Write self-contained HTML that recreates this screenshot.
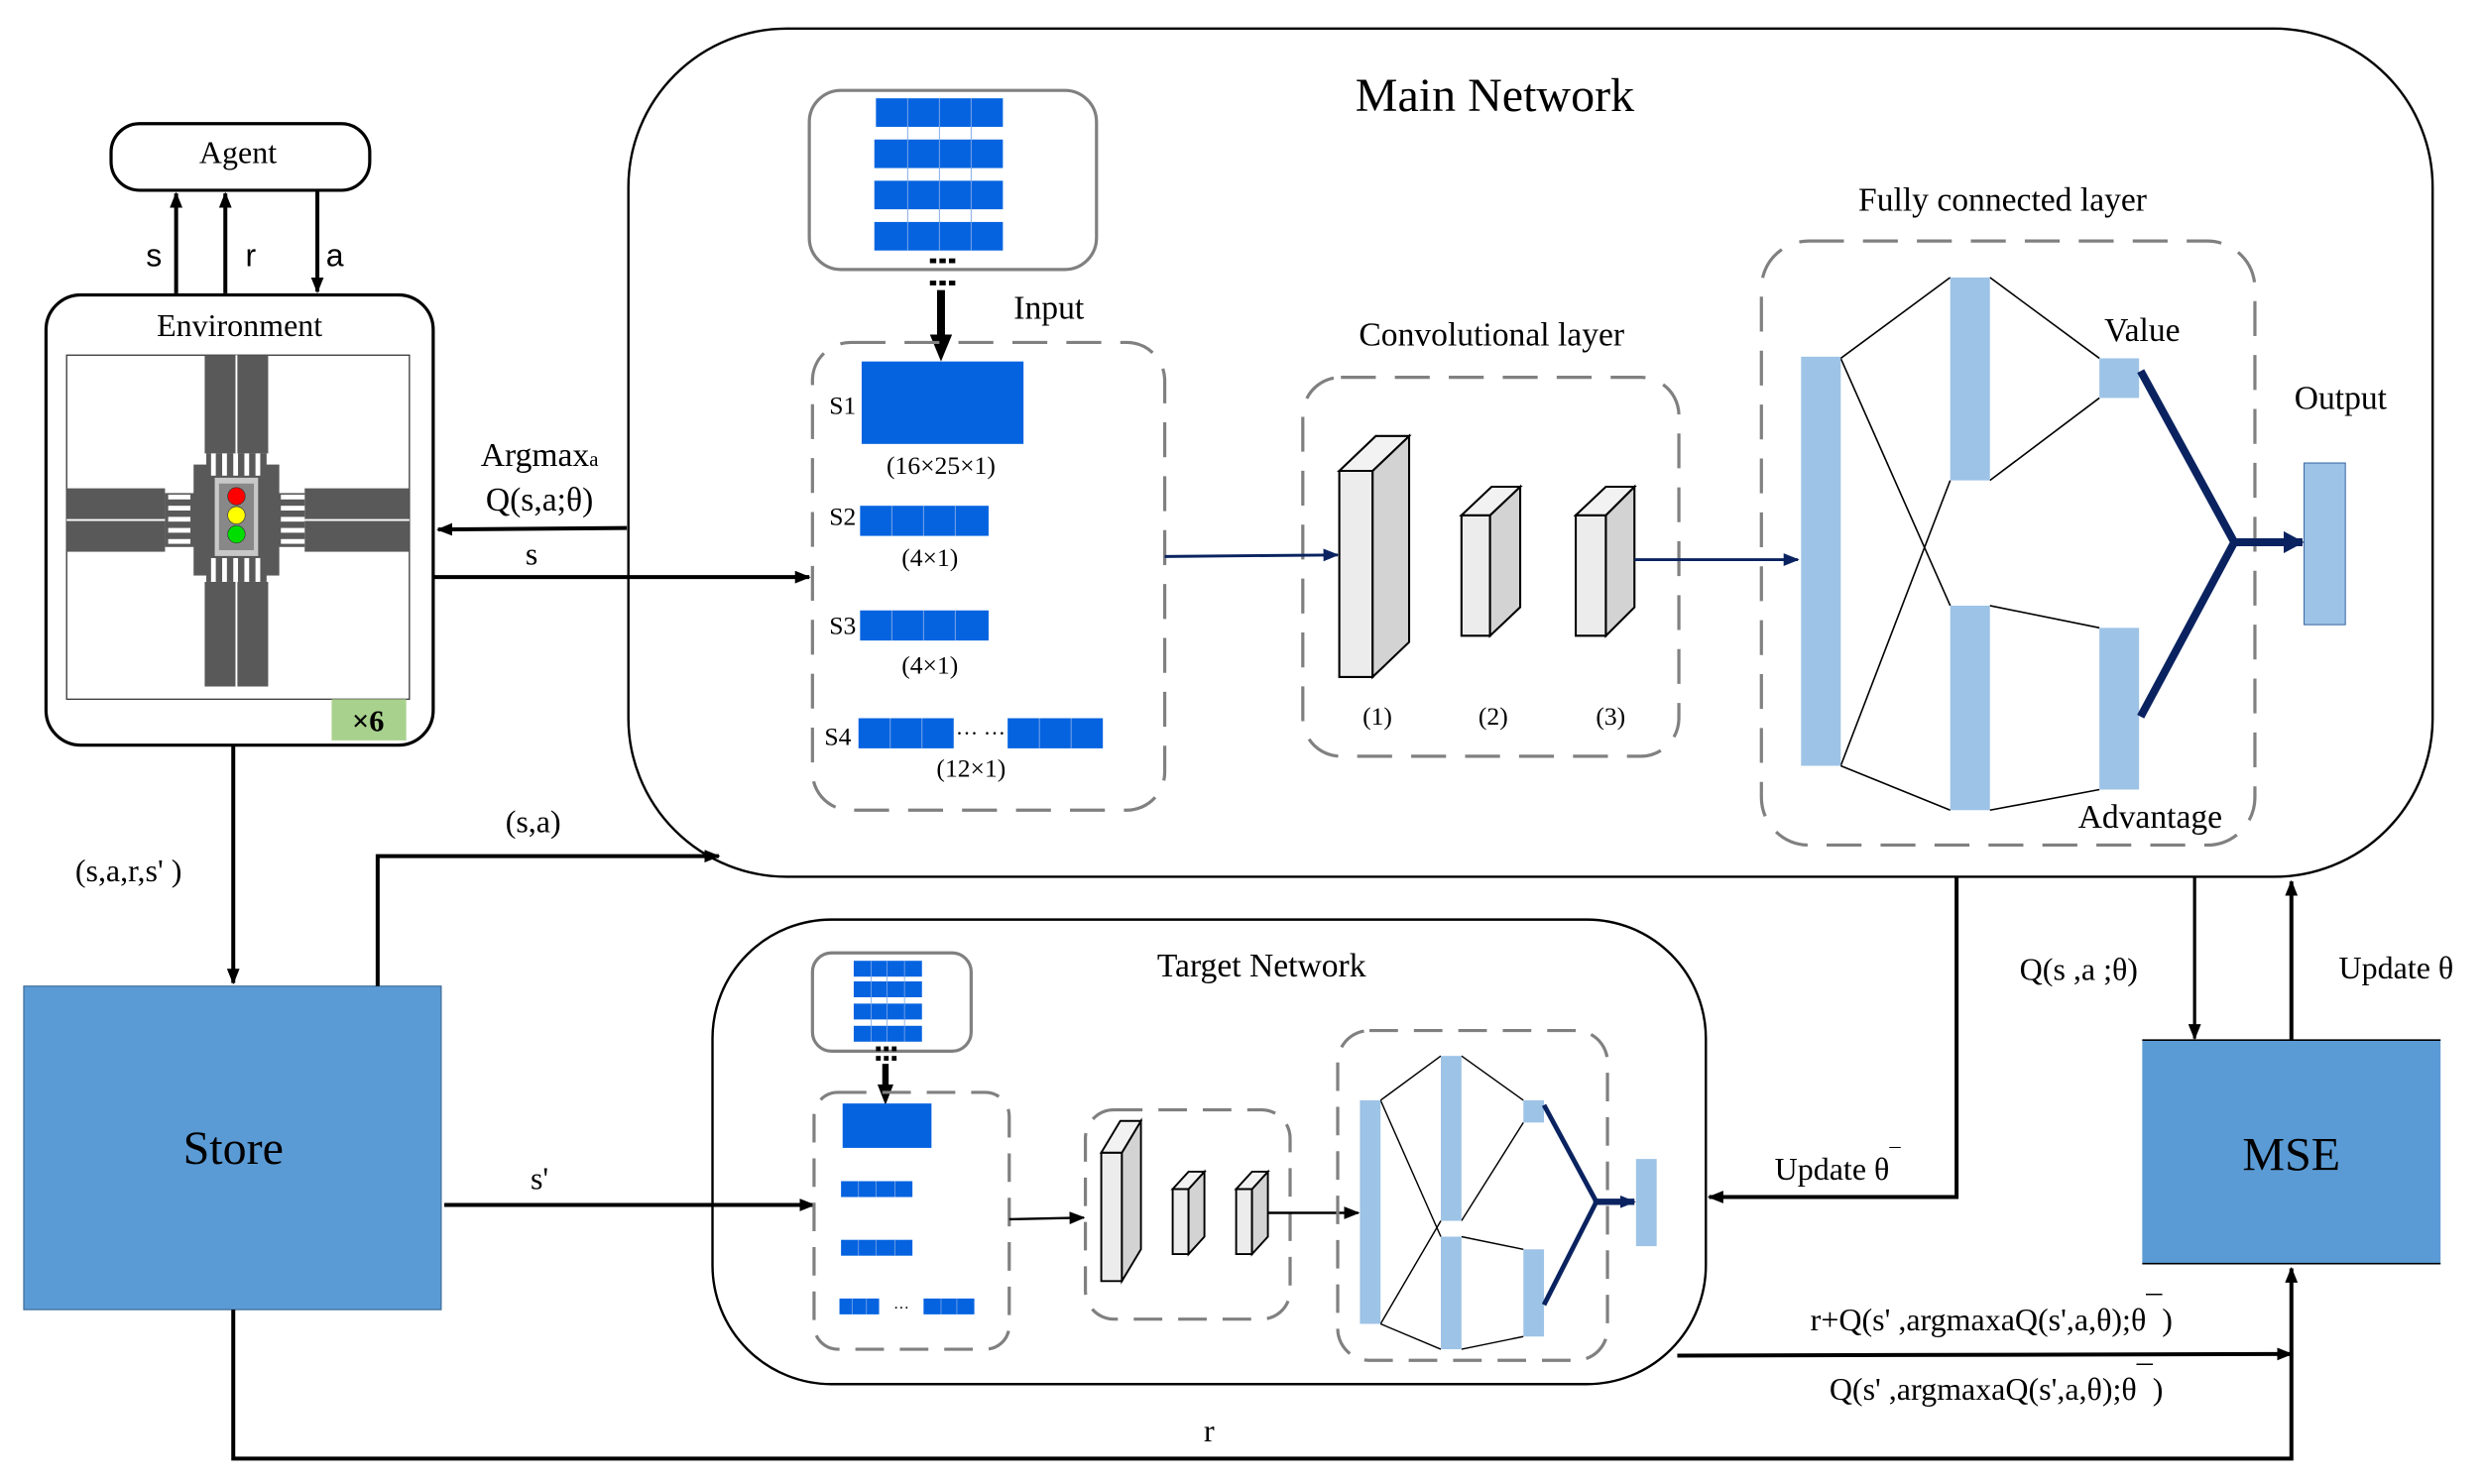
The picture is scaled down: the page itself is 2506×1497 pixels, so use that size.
<!DOCTYPE html>
<html><head><meta charset="utf-8"><style>
html,body{margin:0;padding:0;background:#fff}
svg{display:block}
text{font-family:"Liberation Serif",serif;fill:#000}
.sans{font-family:"Liberation Sans",sans-serif}
</style></head><body>
<svg width="2506" height="1497" viewBox="0 0 1566 936" preserveAspectRatio="none" xmlns="http://www.w3.org/2000/svg">
<defs>
<marker id="ah" markerWidth="10" markerHeight="8" refX="9" refY="4" orient="auto" markerUnits="userSpaceOnUse"><path d="M0,0 L10,4 L0,8 Z" fill="#000"/></marker>
<marker id="an" markerWidth="10" markerHeight="8" refX="9" refY="4" orient="auto" markerUnits="userSpaceOnUse"><path d="M0,0 L10,4 L0,8 Z" fill="#0a2360"/></marker>
<marker id="an2" markerWidth="14" markerHeight="14" refX="12" refY="7" orient="auto" markerUnits="userSpaceOnUse"><path d="M0,0 L13,7 L0,14 Z" fill="#0a2360"/></marker>
</defs>

<!-- Agent -->
<rect x="70" y="78" width="163" height="42" rx="18" fill="#fff" stroke="#000" stroke-width="2"/>
<text x="150" y="103" font-size="20" text-anchor="middle">Agent</text>
<line x1="111" y1="185" x2="111" y2="122" stroke="#000" stroke-width="2.5" marker-end="url(#ah)"/>
<line x1="142" y1="185" x2="142" y2="122" stroke="#000" stroke-width="2.5" marker-end="url(#ah)"/>
<line x1="200" y1="120" x2="200" y2="184" stroke="#000" stroke-width="2.5" marker-end="url(#ah)"/>
<text x="97" y="168" font-size="20" text-anchor="middle" class="sans">s</text>
<text x="158" y="168" font-size="20" text-anchor="middle" class="sans">r</text>
<text x="211" y="168" font-size="20" text-anchor="middle" class="sans">a</text>

<!-- Environment -->
<rect x="29" y="186" width="244" height="284" rx="22" fill="#fff" stroke="#000" stroke-width="2"/>
<text x="151" y="212" font-size="20" text-anchor="middle">Environment</text>
<rect x="42" y="224" width="216" height="217" fill="#fff" stroke="#333" stroke-width="0.8"/>
<g fill="#595959">
<rect x="129" y="224" width="40" height="62"/>
<rect x="129" y="367" width="40" height="66"/>
<rect x="42" y="308" width="62" height="40"/>
<rect x="192" y="308" width="66" height="40"/>
<rect x="122" y="293" width="54" height="70"/>
<rect x="130" y="286" width="38" height="81"/>
<rect x="104" y="311" width="88" height="34"/>
</g>
<g stroke="#fff" stroke-width="1.2">
<line x1="149" y1="224" x2="149" y2="286"/><line x1="149" y1="367" x2="149" y2="433"/>
<line x1="42" y1="328" x2="104" y2="328"/><line x1="192" y1="328" x2="258" y2="328"/>
</g>
<g fill="#fff">
<rect x="133" y="286" width="3" height="14"/><rect x="140" y="286" width="3" height="14"/><rect x="147" y="286" width="3" height="14"/><rect x="154" y="286" width="3" height="14"/><rect x="161" y="286" width="3" height="14"/>
<rect x="133" y="352" width="3" height="15"/><rect x="140" y="352" width="3" height="15"/><rect x="147" y="352" width="3" height="15"/><rect x="154" y="352" width="3" height="15"/><rect x="161" y="352" width="3" height="15"/>
<rect x="106" y="312" width="14" height="3"/><rect x="106" y="319" width="14" height="3"/><rect x="106" y="326" width="14" height="3"/><rect x="106" y="333" width="14" height="3"/><rect x="106" y="340" width="14" height="3"/>
<rect x="177" y="312" width="15" height="3"/><rect x="177" y="319" width="15" height="3"/><rect x="177" y="326" width="15" height="3"/><rect x="177" y="333" width="15" height="3"/><rect x="177" y="340" width="15" height="3"/>
</g>
<rect x="135" y="301" width="28" height="50" fill="#c8c8c8" stroke="#555" stroke-width="0.6"/>
<rect x="138" y="305" width="22" height="42" fill="#888"/>
<circle cx="149" cy="313" r="5.5" fill="#f00" stroke="#333" stroke-width="0.4"/>
<circle cx="149" cy="325" r="5.5" fill="#ff0" stroke="#333" stroke-width="0.4"/>
<circle cx="149" cy="337" r="5.5" fill="#0d0" stroke="#333" stroke-width="0.4"/>
<rect x="209" y="441" width="47" height="26" fill="#a9d18e"/>
<text x="232" y="461" font-size="19" font-weight="bold" text-anchor="middle">×6</text>

<!-- Main network -->
<rect x="396" y="18" width="1137" height="535" rx="100" fill="none" stroke="#000" stroke-width="1.5"/>
<text x="942" y="70" font-size="30" text-anchor="middle">Main Network</text>

<!-- Input stack -->
<rect x="510" y="57" width="181" height="113" rx="20" fill="#fff" stroke="#808080" stroke-width="2"/>
<g fill="#0563e0">
<rect x="552" y="62" width="80" height="18"/><rect x="551" y="88" width="81" height="18"/><rect x="551" y="114" width="81" height="18"/><rect x="551" y="140" width="81" height="18"/>
</g>
<g stroke="#7fa8e6" stroke-width="0.6">
<line x1="572" y1="62" x2="572" y2="158"/><line x1="592" y1="62" x2="592" y2="158"/><line x1="612" y1="62" x2="612" y2="158"/>
</g>
<g fill="#000"><rect x="586" y="163" width="4" height="3"/><rect x="592" y="163" width="4" height="3"/><rect x="598" y="163" width="4" height="3"/>
<rect x="586" y="177" width="4" height="3"/><rect x="592" y="177" width="4" height="3"/><rect x="598" y="177" width="4" height="3"/></g>
<line x1="593" y1="183" x2="593" y2="213" stroke="#000" stroke-width="5"/>
<path d="M586,211 L600,211 L593,228 Z" fill="#000"/>
<text x="661" y="201" font-size="21" text-anchor="middle">Input</text>
<rect x="512" y="216" width="222" height="295" rx="24" fill="none" stroke="#808080" stroke-width="2" stroke-dasharray="22,12"/>
<text x="531" y="261" font-size="16" text-anchor="middle">S1</text>
<rect x="543" y="228" width="102" height="52" fill="#0563e0"/>
<text x="593" y="299" font-size="16" text-anchor="middle">(16×25×1)</text>
<text x="531" y="331" font-size="16" text-anchor="middle">S2</text>
<rect x="542" y="319" width="81" height="19" fill="#0563e0"/>
<text x="586" y="357" font-size="16" text-anchor="middle">(4×1)</text>
<text x="531" y="400" font-size="16" text-anchor="middle">S3</text>
<rect x="542" y="385" width="81" height="19" fill="#0563e0"/>
<text x="586" y="425" font-size="16" text-anchor="middle">(4×1)</text>
<text x="528" y="470" font-size="16" text-anchor="middle">S4</text>
<rect x="541" y="453" width="60" height="19" fill="#0563e0"/>
<rect x="635" y="453" width="60" height="19" fill="#0563e0"/>
<text x="618" y="467" font-size="14" text-anchor="middle">··· ···</text>
<text x="612" y="490" font-size="16" text-anchor="middle">(12×1)</text>
<g stroke="#7fa8e6" stroke-width="0.6">
<line x1="562" y1="319" x2="562" y2="338"/><line x1="582" y1="319" x2="582" y2="338"/><line x1="602" y1="319" x2="602" y2="338"/>
<line x1="562" y1="385" x2="562" y2="404"/><line x1="582" y1="385" x2="582" y2="404"/><line x1="602" y1="385" x2="602" y2="404"/>
<line x1="561" y1="453" x2="561" y2="472"/><line x1="581" y1="453" x2="581" y2="472"/><line x1="655" y1="453" x2="655" y2="472"/><line x1="675" y1="453" x2="675" y2="472"/>
</g>

<!-- Conv layer -->
<text x="940" y="218" font-size="21" text-anchor="middle">Convolutional layer</text>
<rect x="821" y="238" width="237" height="239" rx="24" fill="none" stroke="#808080" stroke-width="2" stroke-dasharray="22,12"/>
<line x1="734" y1="351" x2="843" y2="350" stroke="#0a2360" stroke-width="1.8" marker-end="url(#an)"/>
<g stroke="#000" stroke-width="1.3">
<path d="M844,297 L865,297 L865,427 L844,427 Z" fill="#ececec"/>
<path d="M865,297 L888,275 L888,405 L865,427 Z" fill="#d3d3d3"/>
<path d="M844,297 L867,275 L888,275 L865,297 Z" fill="#f2f2f2"/>
<path d="M921,325 L939,325 L939,401 L921,401 Z" fill="#ececec"/>
<path d="M939,325 L958,307 L958,383 L939,401 Z" fill="#d3d3d3"/>
<path d="M921,325 L940,307 L958,307 L939,325 Z" fill="#f2f2f2"/>
<path d="M993,325 L1012,325 L1012,401 L993,401 Z" fill="#ececec"/>
<path d="M1012,325 L1030,307 L1030,383 L1012,401 Z" fill="#d3d3d3"/>
<path d="M993,325 L1012,307 L1030,307 L1012,325 Z" fill="#f2f2f2"/>
</g>
<text x="868" y="457" font-size="16" text-anchor="middle">(1)</text>
<text x="941" y="457" font-size="16" text-anchor="middle">(2)</text>
<text x="1015" y="457" font-size="16" text-anchor="middle">(3)</text>
<line x1="1030" y1="353" x2="1133" y2="353" stroke="#0a2360" stroke-width="1.8" marker-end="url(#an)"/>

<!-- FC -->
<text x="1262" y="133" font-size="21" text-anchor="middle">Fully connected layer</text>
<rect x="1110" y="152" width="311" height="381" rx="30" fill="none" stroke="#808080" stroke-width="2" stroke-dasharray="22,12"/>
<g stroke="#000" stroke-width="1" fill="none">
<line x1="1160" y1="226" x2="1229" y2="175"/><line x1="1160" y1="226" x2="1229" y2="382"/>
<line x1="1160" y1="483" x2="1229" y2="303"/><line x1="1160" y1="483" x2="1229" y2="511"/>
<line x1="1254" y1="175" x2="1323" y2="226"/><line x1="1254" y1="303" x2="1323" y2="251"/>
<line x1="1254" y1="382" x2="1323" y2="396"/><line x1="1254" y1="511" x2="1323" y2="498"/>
</g>
<g fill="#9dc3e6">
<rect x="1135" y="225" width="25" height="258"/>
<rect x="1229" y="175" width="25" height="128"/>
<rect x="1229" y="382" width="25" height="129"/>
<rect x="1323" y="226" width="25" height="25"/>
<rect x="1323" y="396" width="25" height="102"/>
<rect x="1452" y="292" width="26" height="102" stroke="#2e5f9e" stroke-width="0.6"/>
</g>
<text x="1350" y="215" font-size="21" text-anchor="middle">Value</text>
<text x="1355" y="522" font-size="21" text-anchor="middle">Advantage</text>
<text x="1475" y="258" font-size="21" text-anchor="middle">Output</text>
<path d="M1349,234 L1408,342 L1349,452" fill="none" stroke="#0a2360" stroke-width="5"/>
<line x1="1406" y1="342" x2="1451" y2="342" stroke="#0a2360" stroke-width="5" marker-end="url(#an2)"/>

<!-- left arrows -->
<line x1="395" y1="333" x2="276" y2="334" stroke="#000" stroke-width="2.5" marker-end="url(#ah)"/>
<text x="340" y="294" font-size="21" text-anchor="middle">Argmax<tspan font-size="13">a</tspan></text>
<text x="340" y="322" font-size="21" text-anchor="middle">Q(s,a;θ)</text>
<line x1="273" y1="364" x2="510" y2="364" stroke="#000" stroke-width="2.5" marker-end="url(#ah)"/>
<text x="335" y="356" font-size="20" text-anchor="middle">s</text>

<!-- Store -->
<rect x="15" y="622" width="263" height="204" fill="#5b9bd5" stroke="#41719c" stroke-width="0.8"/>
<text x="147" y="734" font-size="30" text-anchor="middle">Store</text>
<line x1="147" y1="470" x2="147" y2="620" stroke="#000" stroke-width="2.5" marker-end="url(#ah)"/>
<text x="81" y="556" font-size="20" text-anchor="middle">(s,a,r,s' )</text>
<polyline points="238,622 238,540 453,540" fill="none" stroke="#000" stroke-width="2.5" marker-end="url(#ah)"/>
<text x="336" y="525" font-size="20" text-anchor="middle">(s,a)</text>
<line x1="280" y1="760" x2="513" y2="760" stroke="#000" stroke-width="2.5" marker-end="url(#ah)"/>
<text x="340" y="750" font-size="20" text-anchor="middle">s'</text>
<polyline points="147,826 147,920 1444,920 1444,800" fill="none" stroke="#000" stroke-width="2.5" marker-end="url(#ah)"/>
<text x="762" y="909" font-size="20" text-anchor="middle">r</text>

<!-- Target network -->
<rect x="449" y="580" width="626" height="293" rx="75" fill="none" stroke="#000" stroke-width="1.5"/>
<text x="795" y="616" font-size="21" text-anchor="middle">Target Network</text>
<rect x="512" y="601" width="100" height="62" rx="12" fill="#fff" stroke="#808080" stroke-width="2"/>
<g fill="#0563e0">
<rect x="538" y="606" width="43" height="10"/><rect x="538" y="619" width="43" height="10"/><rect x="538" y="633" width="43" height="10"/><rect x="538" y="647" width="43" height="10"/>
</g>
<g stroke="#7fa8e6" stroke-width="0.5"><line x1="549" y1="606" x2="549" y2="657"/><line x1="559" y1="606" x2="559" y2="657"/><line x1="570" y1="606" x2="570" y2="657"/></g>
<g fill="#000"><rect x="552" y="660" width="3" height="3"/><rect x="557" y="660" width="3" height="3"/><rect x="562" y="660" width="3" height="3"/>
<rect x="552" y="666" width="3" height="3"/><rect x="557" y="666" width="3" height="3"/><rect x="562" y="666" width="3" height="3"/></g>
<line x1="558" y1="671" x2="558" y2="686" stroke="#000" stroke-width="4"/>
<path d="M553,684 L563,684 L558,697 Z" fill="#000"/>
<rect x="513" y="689" width="123" height="162" rx="15" fill="none" stroke="#808080" stroke-width="2" stroke-dasharray="18,10"/>
<rect x="531" y="696" width="56" height="28" fill="#0563e0"/>
<g fill="#0563e0">
<rect x="530" y="745" width="45" height="10"/><rect x="530" y="782" width="45" height="10"/>
<rect x="529" y="819" width="25" height="10"/><rect x="582" y="819" width="32" height="10"/>
</g>
<g stroke="#7fa8e6" stroke-width="0.5"><line x1="541" y1="745" x2="541" y2="755"/><line x1="552" y1="745" x2="552" y2="755"/><line x1="564" y1="745" x2="564" y2="755"/>
<line x1="541" y1="782" x2="541" y2="792"/><line x1="552" y1="782" x2="552" y2="792"/><line x1="564" y1="782" x2="564" y2="792"/>
<line x1="537" y1="819" x2="537" y2="829"/><line x1="546" y1="819" x2="546" y2="829"/><line x1="593" y1="819" x2="593" y2="829"/><line x1="603" y1="819" x2="603" y2="829"/></g>
<text x="568" y="828" font-size="10" text-anchor="middle">···</text>
<line x1="636" y1="769" x2="683" y2="768" stroke="#000" stroke-width="1.5" marker-end="url(#ah)"/>
<rect x="684" y="700" width="129" height="132" rx="18" fill="none" stroke="#808080" stroke-width="2" stroke-dasharray="18,10"/>
<g stroke="#000" stroke-width="1.2">
<path d="M694,727 L707,727 L707,808 L694,808 Z" fill="#ececec"/>
<path d="M707,727 L719,707 L719,788 L707,808 Z" fill="#d3d3d3"/>
<path d="M694,727 L706,707 L719,707 L707,727 Z" fill="#f2f2f2"/>
<path d="M739,750 L749,750 L749,791 L739,791 Z" fill="#ececec"/>
<path d="M749,750 L759,739 L759,780 L749,791 Z" fill="#d3d3d3"/>
<path d="M739,750 L749,739 L759,739 L749,750 Z" fill="#f2f2f2"/>
<path d="M779,750 L789,750 L789,791 L779,791 Z" fill="#ececec"/>
<path d="M789,750 L799,739 L799,780 L789,791 Z" fill="#d3d3d3"/>
<path d="M779,750 L789,739 L799,739 L789,750 Z" fill="#f2f2f2"/>
</g>
<line x1="799" y1="765" x2="856" y2="765" stroke="#000" stroke-width="1.5" marker-end="url(#ah)"/>
<rect x="843" y="650" width="170" height="208" rx="20" fill="none" stroke="#808080" stroke-width="2" stroke-dasharray="18,10"/>
<g stroke="#000" stroke-width="0.9" fill="none">
<line x1="870" y1="694" x2="908" y2="666"/><line x1="870" y1="694" x2="908" y2="780"/>
<line x1="870" y1="835" x2="908" y2="770"/><line x1="870" y1="835" x2="908" y2="851"/>
<line x1="921" y1="666" x2="960" y2="694"/><line x1="921" y1="770" x2="960" y2="708"/>
<line x1="921" y1="780" x2="960" y2="788"/><line x1="921" y1="851" x2="960" y2="843"/>
</g>
<g fill="#9dc3e6">
<rect x="857" y="694" width="13" height="141"/>
<rect x="908" y="666" width="13" height="104"/>
<rect x="908" y="780" width="13" height="71"/>
<rect x="960" y="694" width="13" height="14"/>
<rect x="960" y="788" width="13" height="55"/>
<rect x="1031" y="731" width="13" height="55"/>
</g>
<path d="M973,697 L1006,758 L973,823" fill="none" stroke="#0a2360" stroke-width="3"/>
<line x1="1004" y1="758" x2="1030" y2="758" stroke="#0a2360" stroke-width="4" marker-end="url(#an)"/>

<!-- right side -->
<polyline points="1233,553 1233,755 1077,755" fill="none" stroke="#000" stroke-width="2.5" marker-end="url(#ah)"/>
<text x="1158" y="744" font-size="20" text-anchor="middle">Update θ<tspan dy="-10" font-size="14">¯</tspan></text>
<line x1="1383" y1="553" x2="1383" y2="655" stroke="#000" stroke-width="2" marker-end="url(#ah)"/>
<text x="1310" y="618" font-size="20" text-anchor="middle">Q(s ,a ;θ)</text>
<line x1="1444" y1="656" x2="1444" y2="556" stroke="#000" stroke-width="2.5" marker-end="url(#ah)"/>
<text x="1510" y="617" font-size="20" text-anchor="middle">Update θ</text>
<rect x="1350" y="656" width="188" height="141" fill="#5b9bd5"/>
<line x1="1350" y1="656" x2="1538" y2="656" stroke="#000" stroke-width="1"/>
<line x1="1350" y1="797" x2="1538" y2="797" stroke="#000" stroke-width="1"/>
<text x="1444" y="738" font-size="30" text-anchor="middle">MSE</text>
<line x1="1057" y1="855" x2="1444" y2="854" stroke="#000" stroke-width="2.5" marker-end="url(#ah)"/>
<text x="1255" y="839" font-size="20" text-anchor="middle">r+Q(s' ,argmaxaQ(s',a,θ);θ<tspan dy="-8">¯</tspan><tspan dy="8">)</tspan></text>
<text x="1258" y="883" font-size="20" text-anchor="middle">Q(s' ,argmaxaQ(s',a,θ);θ<tspan dy="-8">¯</tspan><tspan dy="8">)</tspan></text>
</svg>
</body></html>
